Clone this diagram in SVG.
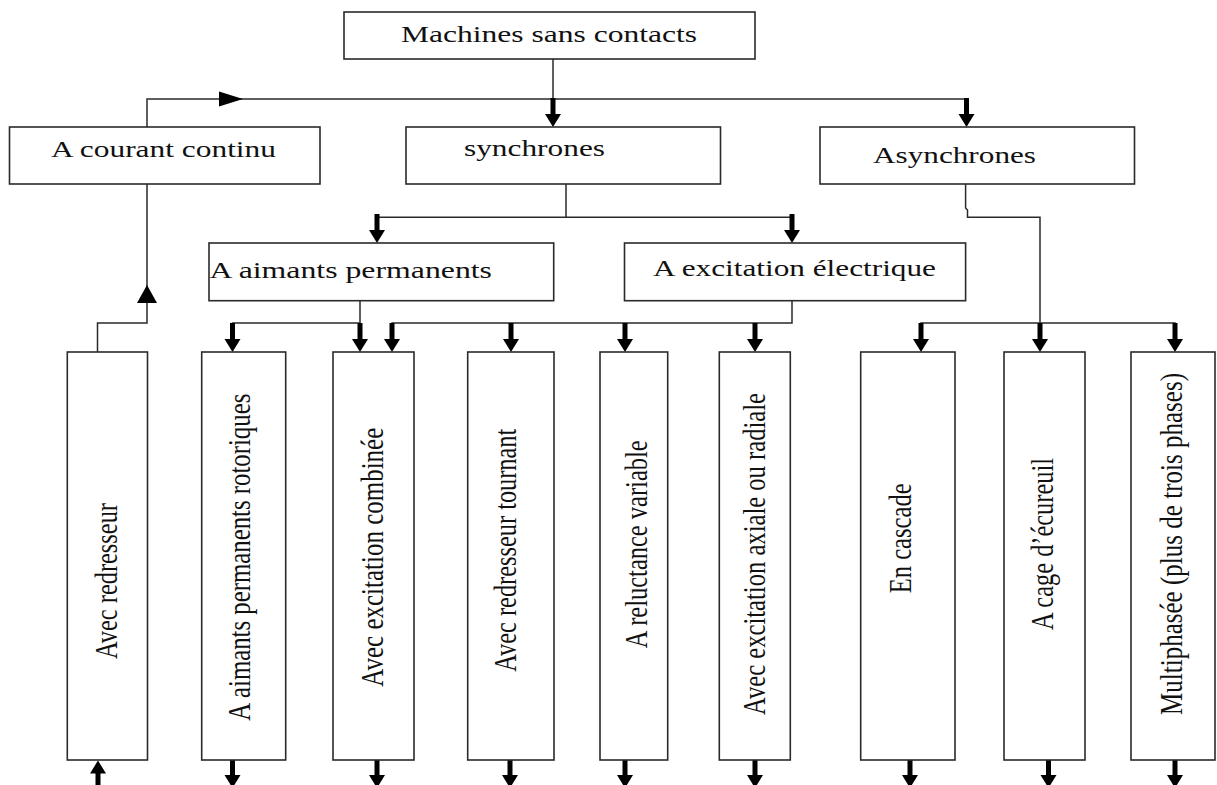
<svg xmlns="http://www.w3.org/2000/svg" xmlns:xlink="http://www.w3.org/1999/xlink" width="1217" height="785" viewBox="0 0 1217 785">
<style>
.box{fill:#fff;stroke:#2a2a2a;stroke-width:1.6}
.ln{fill:none;stroke:#2a2a2a;stroke-width:1.5}
.t{font-family:"Liberation Serif","Times New Roman",serif;font-size:23px;fill:#111}
.ah{fill:#000}
</style>
<defs>
<g id="ad"><rect x="-2.5" y="-29" width="5" height="17"/><path d="M-8,-13 L8,-13 L0,0 Z"/></g>
</defs>
<rect width="1217" height="785" fill="#fff"/>
<g id="connectors">
<path class="ln" d="M553,59 V114"/>
<path class="ln" d="M147,127 V99 H966.5 V114"/>
<path class="ln" d="M147,184 V323 H97.5 V352"/>
<path class="ln" d="M566,184 V217.3"/>
<path class="ln" d="M377,230 V217.3 H792 V230"/>
<path class="ln" d="M965.6,184 V208 L967.5,210 V217.3 H1040 V340"/>
<path class="ln" d="M921,340 V323 H1175 V340"/>
<path class="ln" d="M360,301 V340"/>
<path class="ln" d="M232.5,340 V323 H360"/>
<path class="ln" d="M792,301 V323 H392 V340"/>
<path class="ln" d="M511,323 V340 M625,323 V340 M755,323 V340"/>
<path class="ln" d="M98,770 V785"/>
<g class="ah">
<path d="M219,91.5 L243,99 L219,106.5 Z"/>
<path d="M137,303 L157,303 L147,285 Z"/>
<use xlink:href="#ad" href="#ad" transform="translate(553,127)"/>
<use xlink:href="#ad" href="#ad" transform="translate(966.5,127)"/>
<use xlink:href="#ad" href="#ad" transform="translate(377,243)"/>
<use xlink:href="#ad" href="#ad" transform="translate(792,243)"/>
<use xlink:href="#ad" href="#ad" transform="translate(232.5,352)"/>
<use xlink:href="#ad" href="#ad" transform="translate(360,352)"/>
<use xlink:href="#ad" href="#ad" transform="translate(392,352)"/>
<use xlink:href="#ad" href="#ad" transform="translate(511,352)"/>
<use xlink:href="#ad" href="#ad" transform="translate(625,352)"/>
<use xlink:href="#ad" href="#ad" transform="translate(755,352)"/>
<use xlink:href="#ad" href="#ad" transform="translate(921,352)"/>
<use xlink:href="#ad" href="#ad" transform="translate(1040,352)"/>
<use xlink:href="#ad" href="#ad" transform="translate(1175,352)"/>
<use xlink:href="#ad" href="#ad" transform="translate(98,760.5) rotate(180)"/>
<use xlink:href="#ad" href="#ad" transform="translate(232.5,788)"/>
<use xlink:href="#ad" href="#ad" transform="translate(377,788)"/>
<use xlink:href="#ad" href="#ad" transform="translate(510,788)"/>
<use xlink:href="#ad" href="#ad" transform="translate(625,788)"/>
<use xlink:href="#ad" href="#ad" transform="translate(755,788)"/>
<use xlink:href="#ad" href="#ad" transform="translate(910,788)"/>
<use xlink:href="#ad" href="#ad" transform="translate(1048.5,788)"/>
<use xlink:href="#ad" href="#ad" transform="translate(1175,788)"/>
</g>
</g>
<g id="n-machines"><rect class="box" x="344" y="12" width="411" height="47"/><text class="t" x="401" y="41.7" textLength="296" lengthAdjust="spacingAndGlyphs">Machines sans contacts</text></g>
<g id="n-courant"><rect class="box" x="9.5" y="127" width="310.5" height="57"/><text class="t" x="51" y="156.7" textLength="225" lengthAdjust="spacingAndGlyphs">A courant continu</text></g>
<g id="n-synchrones"><rect class="box" x="406" y="127" width="314.5" height="57"/><text class="t" x="464" y="155.5" textLength="141" lengthAdjust="spacingAndGlyphs">synchrones</text></g>
<g id="n-asynchrones"><rect class="box" x="820" y="127" width="314.5" height="57"/><text class="t" x="873" y="163" textLength="163" lengthAdjust="spacingAndGlyphs">Asynchrones</text></g>
<g id="n-aimants"><rect class="box" x="209" y="243" width="344.7" height="57.7"/><text class="t" x="209.5" y="278" textLength="282.5" lengthAdjust="spacingAndGlyphs">A aimants permanents</text></g>
<g id="n-excitation"><rect class="box" x="624.5" y="243" width="341.1" height="57.7"/><text class="t" x="653" y="276" textLength="283" lengthAdjust="spacingAndGlyphs">A excitation électrique</text></g>
<g id="n-redresseur"><rect class="box" x="67.3" y="352" width="80.2" height="408"/><text class="t" transform="translate(117.3,659) scale(1.37,1) rotate(-90)" textLength="156" lengthAdjust="spacingAndGlyphs">Avec redresseur</text></g>
<g id="n-rotoriques"><rect class="box" x="201.7" y="352" width="84" height="408"/><text class="t" transform="translate(250,720.7) scale(1.37,1) rotate(-90)" textLength="327" lengthAdjust="spacingAndGlyphs">A aimants permanents rotoriques</text></g>
<g id="n-combinee"><rect class="box" x="333" y="352" width="81" height="408"/><text class="t" transform="translate(383.3,686.7) scale(1.37,1) rotate(-90)" textLength="259" lengthAdjust="spacingAndGlyphs">Avec excitation combinée</text></g>
<g id="n-tournant"><rect class="box" x="467.7" y="352" width="86.3" height="408"/><text class="t" transform="translate(516,671.7) scale(1.37,1) rotate(-90)" textLength="243" lengthAdjust="spacingAndGlyphs">Avec redresseur tournant</text></g>
<g id="n-reluctance"><rect class="box" x="600" y="352" width="67.7" height="408"/><text class="t" transform="translate(646.7,648.3) scale(1.37,1) rotate(-90)" textLength="208" lengthAdjust="spacingAndGlyphs">A reluctance variable</text></g>
<g id="n-axiale"><rect class="box" x="719.3" y="352" width="71" height="408"/><text class="t" transform="translate(765,715) scale(1.37,1) rotate(-90)" textLength="322" lengthAdjust="spacingAndGlyphs">Avec excitation axiale ou radiale</text></g>
<g id="n-cascade"><rect class="box" x="860.7" y="352" width="94.3" height="408"/><text class="t" transform="translate(910.7,593.3) scale(1.37,1) rotate(-90)" textLength="110" lengthAdjust="spacingAndGlyphs">En cascade</text></g>
<g id="n-cage"><rect class="box" x="1004" y="352" width="81" height="408"/><text class="t" transform="translate(1053,630) scale(1.37,1) rotate(-90)" textLength="172" lengthAdjust="spacingAndGlyphs">A cage d’écureuil</text></g>
<g id="n-multiphasee"><rect class="box" x="1131" y="352" width="84" height="408"/><text class="t" transform="translate(1181.7,715) scale(1.37,1) rotate(-90)" textLength="342" lengthAdjust="spacingAndGlyphs">Multiphasée (plus de trois phases)</text></g>
</svg>
